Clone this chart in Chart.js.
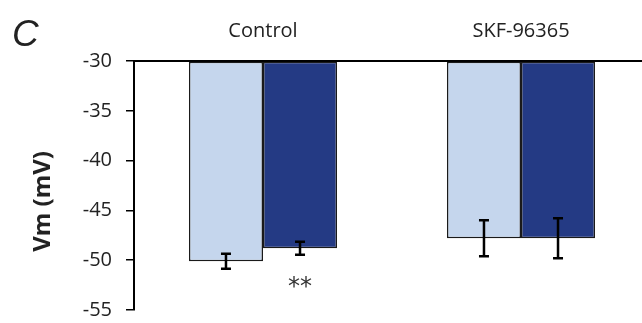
<!DOCTYPE html>
<html>
<head>
<meta charset="utf-8">
<script src="https://cdn.jsdelivr.net/npm/chart.js@4.4.0/dist/chart.umd.min.js"></script>
<style>
  html, body { margin: 0; padding: 0; background: #fff; overflow: hidden; }
  #wrap { width: 642px; height: 323px; overflow: hidden; }
</style>
</head>
<body>
<div id="wrap"><canvas id="chart" width="650" height="336"></canvas></div>
<script>
// Données (Vm en mV)
const categories = ['Control', 'SKF-96365'];
const beforeValues = [-50.1, -47.8];
const afterValues = [-48.8, -47.8];
const beforeErrors = [0.75, 1.8];
const afterErrors = [0.65, 2.0];
const yTicks = [-30, -35, -40, -45, -50, -55];
const significance = ['**', ''];

const lightBlue = '#c5d6ed';
const darkBlue = '#243a84';

// Barres d'erreur + annotations
const extrasPlugin = {
  id: 'extras',
  afterDatasetsDraw(chart) {
    const ctx = chart.ctx;
    const y = chart.scales.y;
    const errs = [beforeErrors, afterErrors];
    const vals = [beforeValues, afterValues];
    ctx.save();
    ctx.strokeStyle = '#000';
    ctx.lineWidth = 2.5;
    chart.data.datasets.forEach((ds, di) => {
      chart.getDatasetMeta(di).data.forEach((bar, i) => {
        const top = y.getPixelForValue(vals[di][i] + errs[di][i]);
        const bot = y.getPixelForValue(vals[di][i] - errs[di][i]);
        ctx.beginPath();
        ctx.moveTo(bar.x, top); ctx.lineTo(bar.x, bot);
        ctx.moveTo(bar.x - 5, top); ctx.lineTo(bar.x + 5, top);
        ctx.moveTo(bar.x - 5, bot); ctx.lineTo(bar.x + 5, bot);
        ctx.stroke();
      });
    });
    // étoiles de significativité sous les barres foncées
    ctx.fillStyle = '#333';
    ctx.font = '24px "DejaVu Sans"';
    ctx.textAlign = 'center';
    ctx.textBaseline = 'middle';
    chart.getDatasetMeta(1).data.forEach((bar, i) => {
      if (significance[i]) ctx.fillText(significance[i], bar.x, y.getPixelForValue(-52.5) + 3);
    });
    // titre de l'axe Y
    ctx.fillStyle = '#222';
    ctx.font = 'bold 24px "Open Sans"';
    ctx.translate(43, y.getPixelForValue(-44.1));
    ctx.rotate(-Math.PI / 2);
    ctx.fillText('Vm (mV)', 0, 0);
    ctx.restore();
    // lettre du panneau
    ctx.save();
    ctx.fillStyle = '#222';
    ctx.font = 'italic 37px "Liberation Sans"';
    ctx.textAlign = 'left';
    ctx.textBaseline = 'alphabetic';
    ctx.fillText('C', 12, 46);
    ctx.restore();
  }
};

new Chart(document.getElementById('chart').getContext('2d'), {
  type: 'bar',
  data: {
    labels: categories,
    datasets: [
      {
        data: beforeValues,
        base: -30,
        backgroundColor: lightBlue,
        borderColor: '#1a1a1a',
        borderWidth: 1.5,
        borderSkipped: false
      },
      {
        data: afterValues,
        base: -30,
        backgroundColor: darkBlue,
        borderColor: '#1a1a1a',
        borderWidth: 1.5,
        borderSkipped: false
      }
    ]
  },
  options: {
    responsive: false,
    animation: false,
    devicePixelRatio: 1,
    layout: { padding: { left: 0, right: 0, top: 1, bottom: 3 } },
    plugins: { legend: { display: false }, tooltip: { enabled: false } },
    datasets: { bar: { barPercentage: 1, categoryPercentage: 0.574 } },
    scales: {
      x: {
        position: 'top',
        grid: { display: false, drawTicks: false },
        border: { display: true, color: '#000', width: 2 },
        ticks: { color: '#222', font: { family: 'Open Sans', size: 20 }, padding: 18 }
      },
      y: {
        min: -55,
        max: -30,
        afterBuildTicks: (s) => { s.ticks = yTicks.map(v => ({ value: v })); },
        afterFit: (s) => { s.width = 134; },
        grid: { drawOnChartArea: false, drawTicks: true, tickLength: 8, color: '#000', lineWidth: 1.5 },
        border: { display: true, color: '#000', width: 2 },
        ticks: { color: '#222', font: { family: 'Open Sans', size: 20 }, padding: 14 }
      }
    }
  },
  plugins: [extrasPlugin]
});
</script>
</body>
</html>
